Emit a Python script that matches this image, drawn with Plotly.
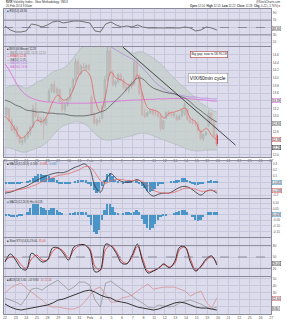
import numpy as np
import plotly.graph_objects as go

W, H = 287, 320

# ---------------- data ----------------
day_labels = ["22", "23", "24", "25", "28", "29", "30", "31", "Feb", "4", "5", "6", "7",
              "8", "11", "12", "13", "14", "15", "19", "20", "21", "22", "25", "26", "27"]
n_days_data = 20
bars_per_day = 4

opens = [13.05, 13.20, 12.88, 12.64, 12.70, 12.48, 12.32, 12.36, 12.45, 12.58, 12.72, 13.20,
         13.00, 12.88, 12.92, 12.80, 13.40, 13.65, 13.82, 13.62, 13.70, 13.38, 13.18, 13.30,
         13.45, 13.70, 13.95, 14.42, 14.10, 14.30, 14.25, 14.32, 13.50, 13.05, 12.82, 12.90,
         12.95, 13.25, 13.95, 14.70, 14.12, 13.82, 13.90, 14.08, 13.95, 13.75, 13.68, 13.78,
         13.85, 14.40, 14.05, 13.60, 13.05, 13.00, 13.10, 13.15, 13.10, 13.08, 13.00, 12.68,
         12.95, 13.10, 13.05, 13.02, 13.00, 12.92, 13.00, 13.05, 13.20, 12.92, 12.85, 12.82,
         12.80, 12.62, 12.42, 12.52, 12.75, 13.08, 12.85, 12.50]
highs = [13.25, 13.22, 12.95, 12.78, 12.75, 12.52, 12.40, 12.50, 12.62, 12.75, 13.30, 13.35,
         13.08, 12.98, 13.00, 12.95, 13.72, 13.85, 13.92, 13.75, 13.72, 13.45, 13.35, 13.50,
         13.75, 14.00, 14.50, 14.48, 14.35, 14.38, 14.35, 14.36, 13.55, 13.10, 12.95, 13.00,
         13.30, 14.05, 14.80, 14.78, 14.20, 13.95, 14.12, 14.12, 14.00, 13.85, 13.82, 13.92,
         14.48, 14.45, 14.10, 13.65, 13.20, 13.12, 13.20, 13.18, 13.18, 13.12, 13.05, 12.90,
         13.12, 13.15, 13.12, 13.10, 13.05, 13.05, 13.20, 13.35, 13.22, 12.98, 12.95, 12.90,
         12.85, 12.65, 12.55, 12.62, 13.15, 13.10, 12.88, 12.55]
lows = [13.00, 12.85, 12.60, 12.55, 12.45, 12.28, 12.25, 12.30, 12.42, 12.50, 12.70, 12.95,
        12.85, 12.78, 12.40, 12.75, 13.38, 13.60, 13.58, 13.55, 13.35, 13.12, 13.10, 13.25,
        13.40, 13.65, 13.90, 14.05, 14.08, 14.22, 14.20, 14.18, 13.00, 12.78, 12.75, 12.80,
        12.92, 13.20, 13.90, 14.05, 13.78, 13.75, 13.85, 13.90, 13.70, 13.62, 13.60, 13.72,
        13.80, 14.00, 13.55, 13.00, 12.95, 12.98, 13.05, 13.02, 13.00, 12.95, 12.62, 12.65,
        12.92, 13.00, 12.98, 12.95, 12.88, 12.90, 12.98, 13.02, 12.88, 12.80, 12.78, 12.75,
        12.58, 12.38, 12.35, 12.48, 12.72, 12.80, 12.45, 12.22]
closes = [13.22, 12.88, 12.64, 12.70, 12.48, 12.32, 12.36, 12.45, 12.58, 12.72, 13.20, 13.00,
          12.88, 12.92, 12.80, 12.92, 13.65, 13.82, 13.62, 13.70, 13.38, 13.18, 13.30, 13.45,
          13.70, 13.95, 14.42, 14.10, 14.30, 14.25, 14.32, 14.22, 13.05, 12.82, 12.90, 12.85,
          13.25, 13.95, 14.70, 14.12, 13.82, 13.90, 14.08, 13.95, 13.75, 13.68, 13.78, 13.85,
          14.40, 14.05, 13.60, 13.05, 13.00, 13.10, 13.15, 13.05, 13.08, 13.00, 12.68, 12.88,
          13.10, 13.05, 13.02, 13.06, 12.92, 13.00, 13.15, 13.30, 12.92, 12.85, 12.82, 12.80,
          12.62, 12.42, 12.52, 12.58, 13.08, 12.85, 12.50, 12.28]

# overlays sampled twice per session
bb_upper = [13.73, 13.78, 13.81, 13.78, 13.73, 13.78, 13.89, 13.94, 14.04, 14.15, 14.20, 14.25,
            14.36, 14.54, 14.72, 14.85, 14.93, 14.98, 14.98, 15.03, 14.98, 14.93, 14.82, 14.72,
            14.64, 14.67, 14.67, 14.59, 14.51, 14.41, 14.28, 14.12, 13.99, 13.84, 13.73, 13.60,
            13.47, 13.34, 13.26, 13.16, 13.11]
bb_lower = [12.17, 12.17, 12.12, 12.07, 12.07, 12.12, 12.17, 12.23, 12.33, 12.49, 12.64, 12.75,
            12.80, 12.85, 12.85, 12.80, 12.69, 12.54, 12.43, 12.38, 12.38, 12.41, 12.43, 12.46,
            12.49, 12.54, 12.56, 12.54, 12.49, 12.43, 12.38, 12.33, 12.28, 12.23, 12.17, 12.12,
            12.10, 12.10, 12.12, 12.12, 12.12]
ma50 = [13.42, 13.37, 13.29, 13.24, 13.16, 13.14, 13.11, 13.11, 13.08, 13.08, 13.06, 13.06,
        13.03, 13.01, 13.01, 13.01, 13.03, 13.06, 13.11, 13.16, 13.29, 13.42, 13.55, 13.71,
        13.86, 13.99, 13.97, 13.84, 13.73, 13.68, 13.63, 13.60, 13.58, 13.52, 13.47, 13.37,
        13.24, 13.14, 13.03, 12.93, 12.85]
ema8 = [13.00, 12.85, 12.64, 12.43, 12.51, 12.69, 12.90, 12.85, 13.03, 13.37, 13.55, 13.42,
        13.47, 13.73, 14.07, 14.20, 14.07, 13.42, 13.11, 13.55, 14.15, 13.99, 13.94, 13.84,
        13.81, 14.07, 13.55, 13.21, 13.16, 13.11, 12.95, 13.08, 13.11, 13.16, 13.21, 12.95,
        12.85, 12.59, 12.69, 12.51, 12.38]
ma200 = [14.36, 14.15, 13.89, 13.68, 13.55, 13.47, 13.42, 13.39, 13.37, 13.37, 13.34, 13.34,
         13.34, 13.34, 13.34, 13.34, 13.34, 13.35, 13.36, 13.37, 13.38, 13.39, 13.40, 13.41,
         13.42, 13.42, 13.43, 13.44, 13.44, 13.45, 13.45, 13.46, 13.46, 13.46, 13.46, 13.45,
         13.44, 13.43, 13.42, 13.40, 13.39]
ma100 = [None] * 18 + [14.93, 14.88, 14.80, 14.72, 14.64, 14.56, 14.49, 14.38, 14.25, 14.10,
                       13.94, 13.81, 13.71, 13.63, 13.58, 13.55, 13.52, 13.50, 13.50, 13.47,
                       13.47, 13.45, 13.45]
rsi = [54.1, 43.3, 37.9, 37.9, 40.6, 59.5, 56.8, 51.4, 56.8, 64.9, 67.6, 62.2, 64.9, 67.6,
       67.6, 64.9, 62.2, 40.6, 37.9, 59.5, 64.9, 56.8, 51.4, 54.1, 51.4, 56.8, 51.4, 48.7,
       48.7, 48.7, 48.7, 48.7, 48.7, 48.7, 51.4, 48.7, 40.6, 43.3, 51.4, 48.7, 43.3]
macd_line = [-0.169, -0.154, -0.123, -0.092, -0.062, -0.015, 0.031, 0.077, 0.108, 0.138,
             0.154, 0.154, 0.185, 0.231, 0.262, 0.292, 0.215, -0.062, -0.154, 0.031,
             0.138, 0.062, 0.015, 0.0, 0.015, 0.046, -0.015, -0.154, -0.215, -0.185,
             -0.169, -0.169, -0.123, -0.077, -0.062, -0.092, -0.154, -0.2, -0.138, -0.123, -0.169]
macd_signal = [-0.138, -0.138, -0.123, -0.108, -0.092, -0.062, -0.031, 0.015, 0.046, 0.077,
               0.108, 0.123, 0.138, 0.169, 0.2, 0.246, 0.246, 0.154, 0.031, -0.015,
               0.031, 0.046, 0.046, 0.031, 0.031, 0.031, 0.015, -0.046, -0.123, -0.154,
               -0.169, -0.169, -0.154, -0.123, -0.092, -0.092, -0.108, -0.138, -0.138, -0.123, -0.138]
macd_hist = [-0.015, -0.015, -0.015, -0.015, -0.015, -0.015, -0.008, 0.0,
             0.015, 0.046, 0.077, 0.108, 0.138, 0.138, 0.123, 0.123,
             0.108, 0.077, 0.062, 0.031, -0.015, -0.031, -0.031, -0.015,
             -0.015, 0.0, 0.015, 0.031, 0.046, 0.046, 0.031, -0.015,
             -0.062, -0.123, -0.169, -0.138, -0.062, 0.046, 0.138, 0.154,
             0.108, 0.046, 0.015, 0.0, -0.015, 0.015, 0.031, 0.015,
             0.0, 0.031, -0.015, -0.062, -0.092, -0.138, -0.154, -0.138,
             -0.108, -0.062, -0.031, -0.015, 0.0, 0.0, 0.015, 0.015,
             0.031, 0.046, 0.062, 0.062, 0.046, 0.015, -0.031, -0.046,
             -0.046, -0.031, -0.015, 0.0, 0.015, 0.031, 0.015, 0.015]
hist2 = [-0.009, -0.009, -0.018, -0.018, -0.018, -0.009, -0.009, 0.0,
         0.026, 0.061, 0.088, 0.096, 0.088, 0.070, 0.053, 0.044,
         0.044, 0.053, 0.053, 0.044, 0.026, 0.009, 0.0, 0.0,
         0.009, 0.009, 0.018, 0.018, 0.026, 0.026, 0.018, -0.026,
         -0.088, -0.149, -0.175, -0.132, -0.044, 0.044, 0.088, 0.096,
         0.070, 0.026, 0.009, 0.0, 0.009, 0.018, 0.018, 0.009,
         0.026, 0.044, 0.018, -0.035, -0.079, -0.114, -0.132, -0.114,
         -0.079, -0.044, -0.026, -0.009, -0.009, 0.0, 0.0, 0.009,
         0.018, 0.035, 0.044, 0.044, 0.026, 0.0, -0.026, -0.044,
         -0.053, -0.044, -0.026, 0.0, 0.018, 0.026, 0.026, 0.018]
sto_k = [37, 58, 42, 21, 16, 60, 50, 37, 42, 74, 74, 60, 42, 76, 82, 82, 68, 11, 16, 84, 79,
         60, 34, 32, 55, 84, 37, 8, 13, 21, 32, 21, 37, 76, 76, 37, 13, 26, 45, 53, 29]
sto_d = [40, 50, 48, 30, 20, 45, 55, 42, 42, 65, 74, 65, 48, 68, 80, 82, 72, 25, 15, 70, 80,
         65, 40, 33, 50, 78, 45, 12, 14, 20, 30, 24, 32, 70, 76, 45, 16, 24, 42, 50, 35]
adx = [14, 9.8, 7, 5.6, 7, 8.4, 9.8, 11.2, 12.6, 15.4, 19.6, 21, 23.8, 26.6, 29.4, 32.2, 33.6,
       30.8, 26.6, 23.8, 22.4, 18.2, 16.8, 15.4, 12.6, 9.8, 8.4, 7, 5.6, 7, 9.8, 12.6, 15.4,
       16.8, 15.4, 12.6, 9.8, 8.4, 8.4, 7, 5.6]
plus_di = [22.4, 19.6, 16.8, 12.6, 22.4, 35, 36.4, 33.6, 39.2, 43.4, 47.6, 40.6, 33.6, 37.8,
           44.8, 44.8, 40.6, 19.6, 9.8, 43.4, 46.2, 40.6, 35, 30.8, 25.2, 19.6, 15.4, 9.8, 8.4,
           12.6, 11.2, 9.8, 11.2, 15.4, 18.2, 19.6, 16.8, 14, 9.8, 7, 9.8]
minus_di = [29.4, 36.4, 40.6, 43.4, 36.4, 30.8, 25.2, 19.6, 12.6, 9.8, 9.8, 8.4, 7, 7, 9.8,
            16.8, 26.6, 35, 37.8, 26.6, 16.8, 16.8, 22.4, 23.8, 26.6, 32.2, 37.8, 42, 35, 36.4,
            37.8, 37.8, 37.8, 35, 32.2, 25.2, 29.4, 32.2, 16.8, 8.4, 22.4]

# axis ticks (labels blanked where a value tag sits on the scale)
rsi_ticks = [10, 30, 50, 70, 90]
rsi_tick_labels = ["10", "30", "", "70", "90"]
price_ticks = [12.0, 12.2, 12.4, 12.6, 12.8, 13.0, 13.2, 13.4, 13.6, 13.8, 14.0, 14.2, 14.4, 14.6, 14.8]
price_tick_labels = ["12.0", "", "", "12.6", "", "13.0", "13.2", "", "13.6", "13.8", "14.0",
                     "14.2", "14.4", "14.6", ""]
macd_ticks = [-0.2, -0.1, 0.0, 0.1, 0.2, 0.3]
macd_tick_labels = ["-0.2", "", "", "0.1", "0.2", "0.3"]
hist_ticks = [-0.15, -0.10, -0.05, 0.0, 0.05, 0.10]
hist_tick_labels = ["-0.15", "-0.10", "-0.05", "", "0.05", "0.10"]
sto_ticks = [20, 50, 80]
sto_tick_labels = ["20", "50", "80"]
adx_ticks = [10, 20, 30, 40, 50]
adx_tick_labels = ["", "", "30", "40", "50"]

# ---------------- positions ----------------
bar_x = [d + (k + 0.5) / bars_per_day for d in range(n_days_data) for k in range(bars_per_day)]
line_x = list(np.linspace(0, 19.9, len(rsi)))

BG = "#dcdcec"
GRID = "#c8c8dc"
LINE = "#8a8a9a"
FONT = "Liberation Sans"

fig = go.Figure()

def sc(y, ax, color, width=0.8, shape="spline", dash=None):
    fig.add_trace(go.Scatter(x=line_x, y=y, mode="lines", xaxis="x" + ax, yaxis="y" + ax,
                             line=dict(color=color, width=width, shape=shape, dash=dash),
                             hoverinfo="skip", showlegend=False, connectgaps=False))

# Panel 1 RSI
sc(rsi, "", "#555555", 0.8, "linear")
# Panel 2 price
fig.add_trace(go.Scatter(x=line_x, y=bb_upper, mode="lines", xaxis="x2", yaxis="y2",
                         line=dict(color="rgba(160,172,172,0.9)", width=0.5, shape="spline"),
                         hoverinfo="skip", showlegend=False))
fig.add_trace(go.Scatter(x=line_x, y=bb_lower, mode="lines", xaxis="x2", yaxis="y2",
                         line=dict(color="rgba(160,172,172,0.9)", width=0.5, shape="spline"),
                         fill="tonexty", fillcolor="rgba(197,207,205,0.85)",
                         hoverinfo="skip", showlegend=False))
fig.add_trace(go.Candlestick(x=bar_x, open=opens, high=highs, low=lows, close=closes,
                             xaxis="x2", yaxis="y2", whiskerwidth=0,
                             increasing=dict(line=dict(color="#2a2a2a", width=1),
                                             fillcolor="rgba(0,0,0,0)"),
                             decreasing=dict(line=dict(color="#e0141e", width=1),
                                             fillcolor="#e0141e"),
                             hoverinfo="skip", showlegend=False))
sc(ma200, "2", "#dd6ad8", 0.8)
sc(ma100, "2", "#b58ae0", 0.8)
sc(ma50, "2", "#5a5a5a", 0.8)
sc(ema8, "2", "#e85858", 0.7)
# Panel 3 MACD
fig.add_trace(go.Bar(x=bar_x, y=macd_hist, xaxis="x3", yaxis="y3", width=0.17,
                     marker=dict(color="#4a94c8", line=dict(width=0)),
                     hoverinfo="skip", showlegend=False))
sc(macd_line, "3", "#333333", 0.8)
sc(macd_signal, "3", "#e86a6a", 0.8)
# Panel 4 histogram
fig.add_trace(go.Bar(x=bar_x, y=hist2, xaxis="x4", yaxis="y4", width=0.17,
                     marker=dict(color="#4a94c8", line=dict(width=0)),
                     hoverinfo="skip", showlegend=False))
# Panel 5 stochastics
sc(sto_d, "5", "#e04848", 0.9)
sc(sto_k, "5", "#222222", 0.9)
# Panel 6 ADX
sc(plus_di, "6", "#8c8c8c", 0.7, "linear")
sc(minus_di, "6", "#d88888", 0.7, "linear")
sc(adx, "6", "#222222", 0.9, "linear")

panels = [(9, 46), (47, 157), (161, 198), (199, 237), (238, 276), (277, 314)]
yranges = [[0, 100], [11.94, 14.80], [-0.246, 0.338], [-0.197, 0.136], [0, 100], [0, 52]]
yticks = [(rsi_ticks, rsi_tick_labels), (price_ticks, price_tick_labels),
          (macd_ticks, macd_tick_labels), (hist_ticks, hist_tick_labels),
          (sto_ticks, sto_tick_labels), (adx_ticks, adx_tick_labels)]

layout = dict(width=W, height=H, margin=dict(l=0, r=0, t=0, b=0),
              paper_bgcolor="white", plot_bgcolor=BG, showlegend=False,
              font=dict(family=FONT, size=4, color="#444"), bargap=0)
for i, ((top, bot), yr, (tv, tt)) in enumerate(zip(panels, yranges, yticks), start=1):
    sfx = "" if i == 1 else str(i)
    layout["xaxis" + sfx] = dict(domain=[3 / W, 273 / W], range=[-0.1, 25.0],
                                 anchor="y" + sfx, tickvals=list(range(len(day_labels))),
                                 ticktext=day_labels, showticklabels=(i in (2, 6)),
                                 showgrid=True, gridcolor=GRID, gridwidth=0.6,
                                 showline=True, mirror=True, linecolor=LINE, linewidth=0.8,
                                 zeroline=False, ticks="", fixedrange=True,
                                 rangeslider=dict(visible=False),
                                 tickfont=dict(size=3.6, color="#555"))
    layout["yaxis" + sfx] = dict(domain=[1 - bot / H, 1 - top / H], range=yr,
                                 anchor="x" + sfx, side="right", tickvals=tv, ticktext=tt,
                                 showgrid=True, gridcolor=GRID, gridwidth=0.6,
                                 showline=True, mirror=True, linecolor=LINE, linewidth=0.8,
                                 zeroline=False, ticks="", fixedrange=True,
                                 tickfont=dict(size=3.2, color="#555"))
fig.update_layout(**layout)

shapes = []
for yv, dash in ((70, "solid"), (30, "solid"), (50, "dash")):
    shapes.append(dict(type="line", xref="x domain", yref="y", x0=0, x1=1, y0=yv, y1=yv,
                       line=dict(color="#7a7a8a", width=0.8, dash=dash)))
for yv, dash in ((80, "solid"), (20, "solid"), (50, "dash")):
    shapes.append(dict(type="line", xref="x5 domain", yref="y5", x0=0, x1=1, y0=yv, y1=yv,
                       line=dict(color="#7a7a8a", width=0.8, dash=dash)))
# hand-drawn trendline
shapes.append(dict(type="line", xref="x2", yref="y2", x0=11.06, y0=14.80, x1=21.65, y1=12.25,
                   line=dict(color="#222222", width=0.8)))
fig.update_layout(shapes=shapes)

ann = []
def txt(x, y, s, size=2.8, color="#333", anchor="left"):
    ann.append(dict(x=x / W, y=1 - y / H, xref="paper", yref="paper", text=s, showarrow=False,
                    xanchor=anchor, yanchor="middle", borderpad=0,
                    font=dict(size=size, color=color, family=FONT)))

txt(4, 2.4, "<b>$VIX</b> Volatility Index - New Methodology  INDX", 3.0)
txt(4, 6.2, "20-Feb-2013 9:30am", 2.8)
txt(284, 2.4, "@StockCharts.com", 2.8, anchor="right")
txt(284, 6.2, "<b>Open</b> 12.50  <b>High</b> 12.55  <b>Low</b> 12.22  <b>Close</b> 12.28  <b>Chg</b> -0.22 (-1.76%)<span style='color:#e00'>▼</span>",
    2.8, anchor="right")
txt(5, 11, "<span style='color:#2a5aa8'>■</span> RSI(14) 43.30")
legend_rows = [("■ $VIX (60 Minute) 12.28", "#222"),
               ("— BB(20,2.0) 12.62, 13.11, 12.12", "#777"),
               ("— EMA(8) 12.38", "#e04848"),
               ("— MA(50) 12.85", "#555"),
               ("— MA(100) 13.45", "#b07ad8"),
               ("— MA(200) 13.39", "#d060d0")]
for j, (s, c) in enumerate(legend_rows):
    txt(5, 49.2 + 3.5 * j, s, 2.6, c)
txt(5, 163.5, "■ MACD(12,26,9) -0.169, <span style='color:#e04848'>-0.138</span>, <span style='color:#3b8cc4'>-0.031</span>")
txt(5, 201.5, "<span style='color:#3b8cc4'>■</span> MACD(12,26,9) Hist 0.018")
txt(5, 240.5, "■ Slow STO(14,3) 29.00, <span style='color:#e04848'>35.00</span>")
txt(5, 279.5, "■ ADX(14) 5.60  +DI 9.80  <span style='color:#d06060'>-DI 22.40</span>")

ann.append(dict(x=229.5 / W, y=1 - 51 / H, xref="paper", yref="paper",
                text="Big gap, now to 58.95.18", showarrow=False, bgcolor="white",
                bordercolor="#a03a3a", borderwidth=0.6, borderpad=0.8,
                font=dict(size=3.2, color="#222", family=FONT)))
ann.append(dict(x=229 / W, y=1 - 72.5 / H, xref="paper", yref="paper",
                text="VIX/60min cycle", showarrow=False, bgcolor="white",
                bordercolor="#999999", borderwidth=0.6, borderpad=1.2,
                font=dict(size=5, color="#111", family=FONT)))

def tag(yref, yv, s, border):
    ann.append(dict(x=274 / W, y=yv, xref="paper", yref=yref, text=s, showarrow=False,
                    xanchor="left", yanchor="middle", bgcolor="#f4f4f8",
                    bordercolor=border, borderwidth=0.5, borderpad=0.2,
                    font=dict(size=3.0, color="#222", family=FONT)))

tag("y", 46, "43.30", "#888")
tag("y2", 13.40, "13.39", "#d060d0")
tag("y2", 12.82, "12.85", "#777")
tag("y2", 12.40, "12.38", "#e04848")
tag("y2", 12.18, "12.28", "#222")
tag("y3", 0.0, "-0.031", "#3b8cc4")
tag("y3", -0.125, "-0.138", "#e04848")
tag("y4", 0.0, "0.018", "#3b8cc4")
tag("y5", 33, "29.00", "#555")
tag("y6", 22.4, "22.40", "#d06060")
tag("y6", 8.0, "9.80", "#888")
fig.update_layout(annotations=ann)

fig.write_html("out.html")
